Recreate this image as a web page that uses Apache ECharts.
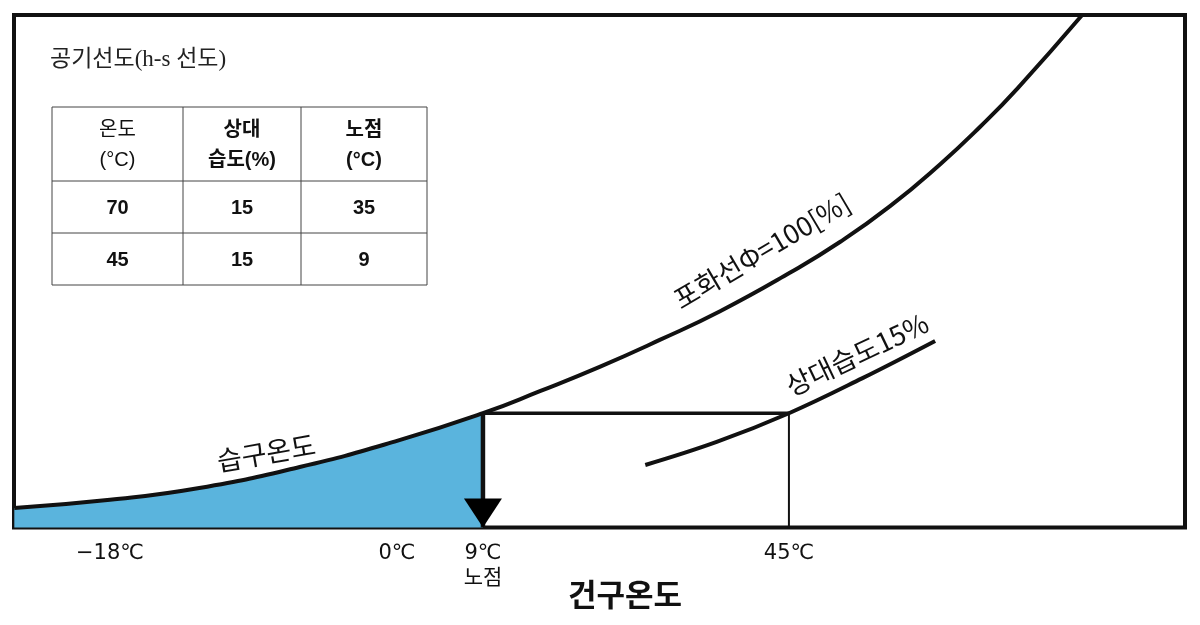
<!DOCTYPE html>
<html><head><meta charset="utf-8">
<script src="https://cdn.jsdelivr.net/npm/echarts@6/dist/echarts.min.js"></script>
<style>html,body{margin:0;padding:0;background:#fff}#c{width:1200px;height:625px}</style>
</head><body><div id="c"></div>
<script>
// ---------------- data ----------------
const tickTemps = [-18, 0, 9, 45];
const tickLabels = ['−18℃', '0℃', '9℃\n노점', '45℃'];
const minorTickTemps = [-18, 0];
// saturation curve (phi = 100 %): dry-bulb temperature / humidity (schematic, % of chart height)
const satTemp = [-24, -18, -12.4, -6.1, 0, 9, 15.7, 22.8, 29.8, 36.9, 45.1, 51.0, 56.9, 62.8, 67.5, 71.9, 79.5];
const satHum  = [3.8, 5.4, 7.7, 11.8, 16.9, 22.3, 26.6, 31.4, 36.6, 42.2, 49.7, 55.7, 62.7, 70.9, 78.2, 85.7, 100];
// relative humidity 15 % curve
const rhTemp = [28.1, 36.5, 45, 53.6, 62.2];
const rhHum  = [12.2, 16.7, 22.3, 29.1, 36.4];
const dewPointTemp = 9;
const dryBulbTemp = 45;
const stateHum = 22.3;
const titleText = '공기선도(h-s 선도)';
const tableHeader = ['온도\n(°C)', '상대\n습도(%)', '노점\n(°C)'];
const tableRow1 = ['70', '15', '35'];
const tableRow2 = ['45', '15', '9'];
const axisTitle = '건구온도';
const curveLabelTexts = ['습구온도', '포화선Φ=100[%]', '상대습도15%'];

// ---------------- schematic (piecewise linear) x scale ----------------
const scaleT = [-18, 0, 9, 45];
const scaleU = [96, 383, 469, 775];
function toU(t) {
  let i = 0;
  if (t <= scaleT[0]) i = 0;
  else if (t >= scaleT[scaleT.length - 1]) i = scaleT.length - 2;
  else { while (t > scaleT[i + 1]) i++; }
  const k = (scaleU[i + 1] - scaleU[i]) / (scaleT[i + 1] - scaleT[i]);
  return scaleU[i] + (t - scaleT[i]) * k;
}
const X_MIN = toU(-24.02), X_MAX = toU(91.6);

function pts(ts, hs) { return ts.map((t, i) => [toU(t), hs[i]]); }
function labelFor(u) {
  let best = 0, bd = Infinity;
  tickTemps.forEach((t, i) => { const d = Math.abs(toU(t) - u); if (d < bd) { bd = d; best = i; } });
  return tickLabels[best];
}

const CJK = "'Noto Sans CJK KR', sans-serif";
const LBL = "'DejaVu Sans', 'Noto Sans CJK KR', sans-serif";
const TBL = "'Liberation Sans', 'Noto Sans CJK KR', sans-serif";
const chart = echarts.init(document.getElementById('c'), null, { renderer: 'canvas' });

const option = {
  backgroundColor: '#fff',
  animation: false,
  grid: { left: 14, right: 15, top: 15, bottom: 97.5, outerBoundsMode: 'none', containLabel: false,
    show: true, borderColor: '#111', borderWidth: 4, backgroundColor: '#fff' },
  xAxis: {
    type: 'value', min: X_MIN, max: X_MAX,
    axisLine: { show: false }, splitLine: { show: false },
    axisTick: { show: true, inside: true, length: 9, lineStyle: { color: '#111', width: 2 }, customValues: minorTickTemps.map(toU) },
    axisLabel: { customValues: tickTemps.map(toU), formatter: v => labelFor(v), fontSize: 21, color: '#111', margin: 14, lineHeight: 25, fontFamily: LBL },
    name: axisTitle, nameLocation: 'middle', nameGap: 51, nameMoveOverlap: false,
    nameTextStyle: { fontSize: 31, fontWeight: 'bold', color: '#111', fontFamily: CJK, padding: [0, 0, 0, 51] }
  },
  yAxis: { type: 'value', min: 0, max: 100, show: false, splitLine: { show: false } },
  series: [
    { name: 'saturation', type: 'line', data: pts(satTemp, satHum), smooth: 0.5, showSymbol: false, z: 3,
      lineStyle: { color: '#111', width: 4 }, areaStyle: { color: '#5ab4dd', opacity: 1 } },
    { name: 'rh15', type: 'line', data: pts(rhTemp, rhHum), smooth: 0.4, showSymbol: false, z: 3,
      lineStyle: { color: '#111', width: 4 } },
    { name: 'state', type: 'line', data: [[toU(dewPointTemp), stateHum], [toU(dryBulbTemp), stateHum]], showSymbol: false, z: 4,
      lineStyle: { color: '#111', width: 3.5 } },
    { name: 'dry', type: 'line', data: [[toU(dryBulbTemp), stateHum], [toU(dryBulbTemp), 0]], showSymbol: false, z: 4,
      lineStyle: { color: '#111', width: 2 } },
    { name: 'dewShaft', type: 'line', data: [[toU(dewPointTemp), stateHum], [toU(dewPointTemp), 0]], showSymbol: false, z: 4,
      lineStyle: { color: '#111', width: 4.5 } },
    { name: 'dewHead', type: 'scatter', data: [[toU(dewPointTemp), 0]], symbol: 'triangle', symbolSize: [38, 29],
      symbolRotate: 180, symbolOffset: [0, '-50%'], clip: false, z: 5, itemStyle: { color: '#000', opacity: 1 } }
  ]
};
chart.setOption(option);

// blue fill only up to the dew point (global gradient)
const pDew = chart.convertToPixel({ gridIndex: 0 }, [toU(dewPointTemp), 0]);
const fx = pDew[0];
chart.setOption({ series: [{ name: 'saturation', areaStyle: { color: {
  type: 'linear', x: fx - 1, y: 0, x2: fx + 1, y2: 0, global: true,
  colorStops: [{ offset: 0, color: '#5ab4dd' }, { offset: 0.5, color: '#5ab4dd' }, { offset: 0.5001, color: 'rgba(90,180,221,0)' }, { offset: 1, color: 'rgba(90,180,221,0)' }]
} } }] });

// ---------------- annotations ----------------
const g = [];
g.push({ type: 'text', x: 50, y: 60, style: { text: titleText, fill: '#222', fontSize: 23, fontFamily: "'Liberation Serif', 'Noto Sans CJK KR', serif", align: 'left', verticalAlign: 'middle' } });
// table layout
const colX = [52, 183, 301, 427];
const rowY = [107, 181, 233, 285];
colX.forEach(x => g.push({ type: 'line', shape: { x1: x, y1: rowY[0], x2: x, y2: rowY[3] }, style: { stroke: '#444', lineWidth: 1 } }));
rowY.forEach(y => g.push({ type: 'line', shape: { x1: colX[0], y1: y, x2: colX[3], y2: y }, style: { stroke: '#444', lineWidth: 1 } }));
const rows = [tableHeader, tableRow1, tableRow2];
rows.forEach((r, ri) => r.forEach((txt, ci) => {
  const bold = !(ri === 0 && ci === 0);
  g.push({ type: 'text', x: (colX[ci] + colX[ci + 1]) / 2, y: (rowY[ri] + rowY[ri + 1]) / 2 + 1,
    style: { text: txt, fill: '#111', fontSize: 20, fontWeight: bold ? 'bold' : 'normal', fontFamily: TBL, align: 'center', verticalAlign: 'middle', lineHeight: 30 } });
}));
// curve labels anchored in data coordinates
const curveLabelAnchors = [[-8.2, 14.6, 10], [41.8, 54.0, 30.5], [53.0, 33.8, 25.5]];
curveLabelTexts.forEach((txt, i) => {
  const a = curveLabelAnchors[i];
  const p = chart.convertToPixel({ gridIndex: 0 }, [toU(a[0]), a[1]]);
  g.push({ type: 'text', x: p[0], y: p[1], rotation: a[2] * Math.PI / 180,
    style: { text: txt, fill: '#111', fontSize: 27, fontFamily: CJK, align: 'center', verticalAlign: 'middle' } });
});
chart.setOption({ graphic: { elements: g } });
</script></body></html>
